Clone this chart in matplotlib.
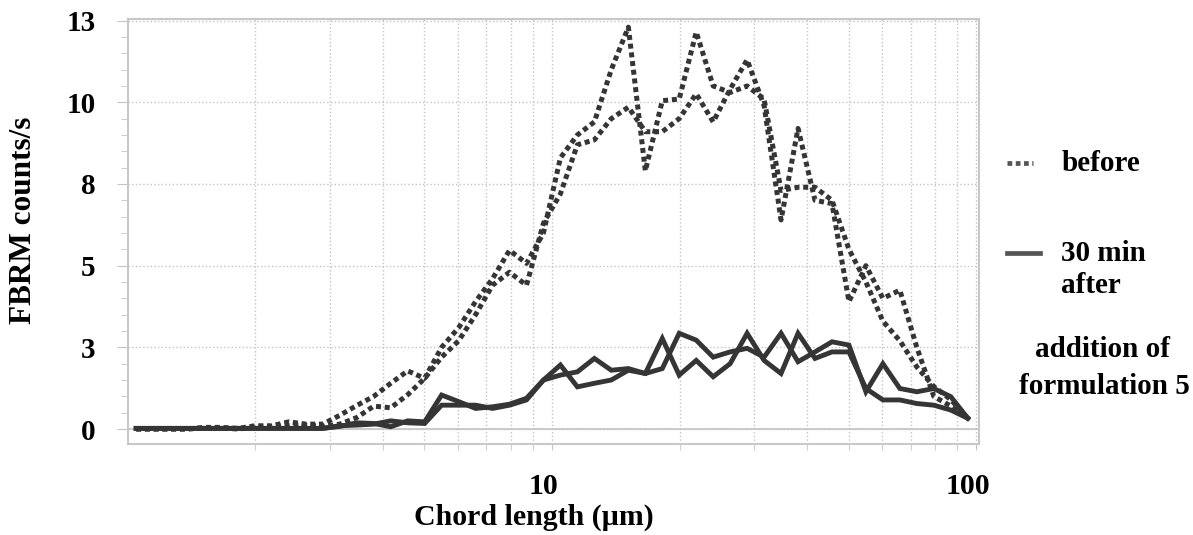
import matplotlib.pyplot as plt
from matplotlib.lines import Line2D
from matplotlib.ticker import FixedLocator, NullFormatter
import matplotlib.transforms as mtransforms

plt.rcParams['font.family'] = ['Liberation Serif', 'DejaVu Serif']
plt.rcParams['font.weight'] = 'bold'

# chord length channels (um)
chord = [1.047, 1.148, 1.259, 1.380, 1.514, 1.660, 1.820, 1.995, 2.188, 2.399,
         2.630, 2.884, 3.162, 3.467, 3.802, 4.169, 4.571, 5.012, 5.495, 6.026,
         6.607, 7.244, 7.943, 8.710, 9.550, 10.47, 11.48, 12.59, 13.80, 15.14,
         16.60, 18.20, 19.95, 21.88, 23.99, 26.30, 28.84, 31.62, 34.67, 38.02,
         41.69, 45.71, 50.12, 54.95, 60.26, 66.07, 72.44, 79.43, 87.10, 95.50]

# before addition (two measurements)
before_1 = [0, 0, 0, 0, 0.05, 0.05, 0.02, 0.10, 0.10, 0.22,
            0.15, 0.15, 0.42, 0.72, 1.00, 1.40, 1.78, 1.55, 2.50, 3.10,
            3.90, 4.60, 5.47, 5.07, 6.00, 8.30, 9.00, 9.40, 11.0, 12.3,
            7.90, 10.05, 10.1, 12.15, 10.5, 10.3, 10.5, 10.1, 7.30, 7.40,
            7.40, 7.00, 5.50, 4.50, 3.30, 2.70, 1.90, 1.30, 0.90, 0.33]
before_2 = [0, 0, 0, 0, 0.03, 0.03, 0.00, 0.05, 0.08, 0.10,
            0.12, 0.08, 0.15, 0.35, 0.70, 0.65, 1.05, 1.55, 2.20, 2.70,
            3.50, 4.40, 4.80, 4.40, 6.30, 7.20, 8.70, 8.85, 9.50, 9.85,
            9.10, 9.10, 9.50, 10.26, 9.40, 10.4, 11.3, 9.90, 6.40, 9.20,
            7.00, 6.90, 3.90, 5.00, 4.00, 4.25, 2.50, 1.00, 0.70, 0.33]

# 30 min after addition of formulation 5 (two measurements)
after_1 = [0.02, 0.02, 0.02, 0.02, 0.02, 0.02, 0.02, 0.02, 0.02, 0.02,
           0.02, 0.02, 0.08, 0.19, 0.17, 0.07, 0.25, 0.22, 1.04, 0.84,
           0.63, 0.68, 0.76, 0.94, 1.50, 1.96, 1.29, 1.40, 1.50, 1.80,
           1.70, 2.77, 1.65, 2.10, 1.60, 2.00, 2.93, 2.10, 1.70, 2.93,
           2.16, 2.36, 2.36, 1.24, 0.89, 0.89, 0.78, 0.73, 0.58, 0.33]
after_2 = [0.02, 0.02, 0.02, 0.02, 0.02, 0.02, 0.02, 0.02, 0.02, 0.02,
           0.02, 0.02, 0.10, 0.12, 0.15, 0.25, 0.19, 0.17, 0.73, 0.73,
           0.73, 0.63, 0.73, 0.89, 1.50, 1.65, 1.75, 2.16, 1.80, 1.85,
           1.70, 1.85, 2.93, 2.72, 2.20, 2.36, 2.47, 2.20, 2.93, 2.06,
           2.36, 2.67, 2.57, 1.14, 2.00, 1.24, 1.14, 1.24, 0.99, 0.33]

y_ticks = [0, 2.5, 5, 7.5, 10, 12.5]
y_labels = ['0', '3', '5', '8', '10', '13']

line_col = '#353535'
grid_col = '#c4c4c4'
dots = (0, (1, 0.75))

fig = plt.figure(figsize=(11.93, 5.35), dpi=100)
ax = fig.add_axes([0.107, 0.170, 0.7136, 0.7945])

for vals in (before_1, before_2):
    ax.plot(chord, vals, color=line_col, lw=3.6, linestyle=dots,
            dash_capstyle='butt')
for vals in (after_1, after_2):
    ax.plot(chord, vals, color=line_col, lw=3.5, solid_joinstyle='miter')

ax.set_xscale('log')
ax.set_xlim(1, 101.5)
ax.set_ylim(-0.46, 12.55)

ax.xaxis.set_major_locator(FixedLocator([10, 100]))
ax.xaxis.set_minor_locator(FixedLocator([2, 3, 4, 5, 6, 7, 8, 9, 20, 30, 40, 50, 60, 70, 80, 90]))
ax.xaxis.set_minor_formatter(NullFormatter())
ax.set_xticklabels(['10', '100'])
ax.set_yticks(y_ticks)
ax.set_yticklabels(y_labels)
ax.yaxis.set_minor_locator(FixedLocator([v * 0.5 for v in range(0, 26) if v % 5 != 0]))

ax.grid(True, which='both', axis='x', color=grid_col, linestyle=':', lw=1)
ax.grid(True, which='major', axis='y', color=grid_col, linestyle=':', lw=1)
ax.axhline(0, color=grid_col, lw=1.2, zorder=1)

ax.tick_params(axis='x', which='both', length=4, color=grid_col, labelsize=21.5, pad=17)
ax.tick_params(axis='y', which='major', length=8, color=grid_col, labelsize=21, pad=15)
ax.tick_params(axis='y', which='minor', length=5, color=grid_col)
for s in ax.spines.values():
    s.set_color('#c8c8c8')
    s.set_linewidth(1.5)

offset = mtransforms.ScaledTranslation(-8 / 100, 0, fig.dpi_scale_trans)
for lab in ax.get_xticklabels():
    lab.set_transform(lab.get_transform() + offset)

ax.set_xlabel('Chord length (µm)', fontsize=21.5, fontweight='bold', va='center')
ax.xaxis.set_label_coords(0.477, -0.172)
ax.set_ylabel('FBRM counts/s', fontsize=22.5, fontweight='bold', va='center')
ax.yaxis.set_label_coords(-0.122, 0.527)

# legend drawn by hand at the right
fig.add_artist(Line2D([0.844, 0.866], [0.695, 0.695], transform=fig.transFigure,
                      color='#555555', lw=3.4, linestyle=dots))
fig.add_artist(Line2D([0.844, 0.872], [0.527, 0.527], transform=fig.transFigure,
                      color='#555555', lw=3.4))
fig.text(0.890, 0.695, 'before', fontsize=21, fontweight='bold', va='center', ha='left')
fig.text(0.889, 0.527, '30 min', fontsize=21, fontweight='bold', va='center', ha='left')
fig.text(0.889, 0.467, 'after', fontsize=21, fontweight='bold', va='center', ha='left')
fig.text(0.924, 0.346, 'addition of', fontsize=21, fontweight='bold', va='center', ha='center')
fig.text(0.926, 0.277, 'formulation 5', fontsize=21, fontweight='bold', va='center', ha='center')

fig.savefig('out.png', dpi=100)
